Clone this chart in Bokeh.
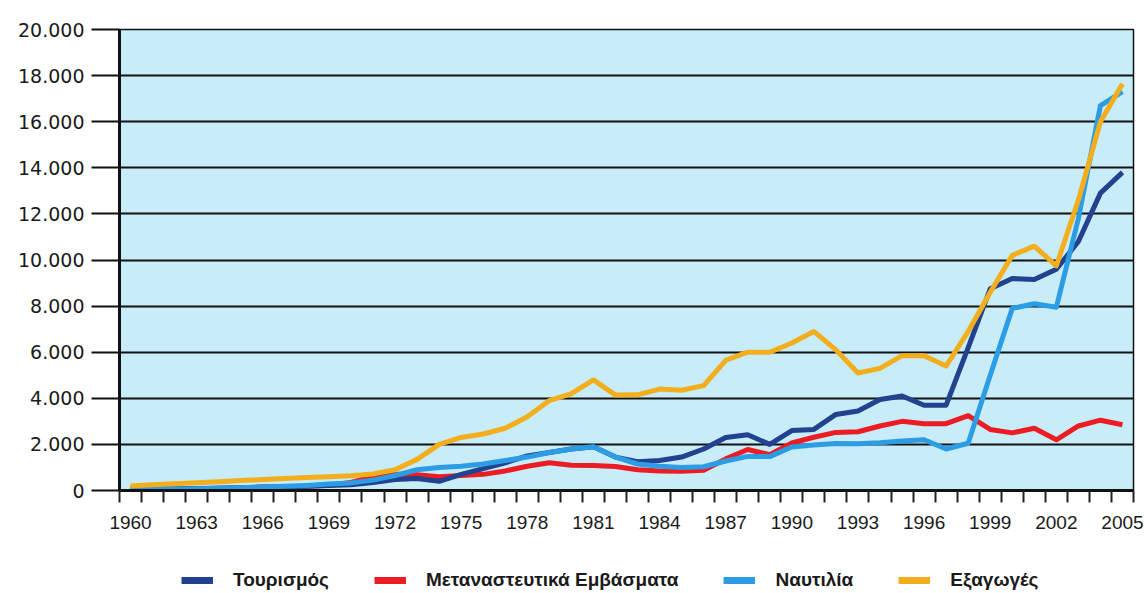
from bokeh.plotting import figure
from bokeh.models import FixedTicker, Legend, LegendItem, ColumnDataSource, Range1d
from bokeh.layouts import column
from bokeh.embed import file_html
from bokeh.resources import INLINE

years = list(range(1960, 2006))

tourism = [50, 60, 70, 90, 100, 110, 140, 150, 180, 220,
           250, 350, 480, 520, 400, 700, 950, 1200, 1500, 1650,
           1800, 1900, 1450, 1250, 1300, 1450, 1800, 2300, 2420, 2000,
           2600, 2650, 3300, 3450, 3950, 4100, 3700, 3700, 6200, 8750,
           9200, 9150, 9600, 10800, 12900, 13800]

remittances = [30, 40, 60, 80, 100, 120, 150, 160, 180, 230,
               350, 600, 700, 680, 600, 650, 700, 850, 1050, 1200,
               1100, 1080, 1040, 900, 850, 830, 880, 1370, 1780, 1550,
               2060, 2310, 2520, 2550, 2800, 3000, 2900, 2900, 3250, 2650,
               2500, 2700, 2200, 2800, 3050, 2850]

shipping = [40, 50, 60, 80, 100, 120, 150, 180, 220, 280,
            330, 450, 650, 900, 1000, 1050, 1150, 1300, 1450, 1650,
            1800, 1900, 1450, 1150, 1050, 1000, 1030, 1280, 1480, 1470,
            1890, 1970, 2040, 2030, 2070, 2150, 2200, 1800, 2050, 5000,
            7900, 8100, 7950, 11800, 16700, 17300]

exports = [200, 250, 290, 340, 380, 430, 480, 520, 560, 600,
           640, 720, 900, 1350, 2000, 2300, 2450, 2700, 3200, 3900,
           4200, 4800, 4140, 4150, 4400, 4350, 4550, 5650, 6000, 6000,
           6400, 6900, 6100, 5100, 5300, 5850, 5850, 5400, 6900, 8600,
           10200, 10600, 9750, 12600, 16000, 17650]

series_names = ["Τουρισμός", "Μεταναστευτικά Εμβάσματα", "Ναυτιλία", "Εξαγωγές"]
series_colors = ["#22418f", "#ec1c24", "#2c9de4", "#f2ae1d"]

y_ticks = [0, 2000, 4000, 6000, 8000, 10000, 12000, 14000, 16000, 18000, 20000]
y_tick_labels = ["0", "2.000", "4.000", "6.000", "8.000", "10.000", "12.000",
                 "14.000", "16.000", "18.000", "20.000"]
x_ticks = list(range(1960, 2006, 3))
x_tick_labels = [str(y) for y in x_ticks]
x_minor = [y - 0.5 for y in range(1960, 2007)]

src = ColumnDataSource(dict(year=years, tourism=tourism, remittances=remittances,
                            shipping=shipping, exports=exports))

p = figure(width=1147, height=545, output_backend="svg", toolbar_location=None,
           x_range=(1959.5, 2005.5), y_range=(0, 20000),
           min_border_left=119, min_border_right=14, min_border_top=29,
           min_border_bottom=55)
p.background_fill_color = "#c8ecf8"
p.border_fill_color = "white"
p.outline_line_color = "#111111"
p.outline_line_width = 1.5

p.xgrid.visible = False
p.ygrid.grid_line_color = "#111111"
p.ygrid.grid_line_width = 2

p.yaxis.ticker = FixedTicker(ticks=y_ticks)
p.yaxis.major_label_overrides = {t: l for t, l in zip(y_ticks, y_tick_labels)}
p.yaxis.axis_line_color = "#111111"
p.yaxis.axis_line_width = 3
p.yaxis.major_tick_line_color = "#111111"
p.yaxis.major_tick_line_width = 2
p.yaxis.major_tick_out = 28
p.yaxis.major_tick_in = 0
p.yaxis.minor_tick_line_color = None
p.yaxis.major_label_standoff = 7
p.yaxis.major_label_text_font = "DejaVu Sans"
p.yaxis.major_label_text_font_size = "19px"
p.yaxis.major_label_text_color = "#1a1a1a"

p.xaxis.ticker = FixedTicker(ticks=x_ticks, minor_ticks=x_minor)
p.xaxis.major_label_overrides = {t: l for t, l in zip(x_ticks, x_tick_labels)}
p.xaxis.axis_line_color = "#111111"
p.xaxis.axis_line_width = 3
p.xaxis.major_tick_line_color = None
p.xaxis.major_tick_out = 0
p.xaxis.major_tick_in = 0
p.xaxis.minor_tick_line_color = "#222222"
p.xaxis.minor_tick_line_width = 2
p.xaxis.minor_tick_out = 12
p.xaxis.minor_tick_in = 0
p.xaxis.major_label_standoff = 13
p.xaxis.major_label_text_font = "Liberation Sans"
p.xaxis.major_label_text_font_size = "19px"
p.xaxis.major_label_text_color = "#1a1a1a"

cols = ["tourism", "remittances", "shipping", "exports"]
draw_order = ["remittances", "tourism", "shipping", "exports"]
for c in draw_order:
    i = cols.index(c)
    p.line("year", c, source=src, line_color=series_colors[i],
           line_width=5, line_join="round")

# legend strip below the chart (its frame is aligned with the chart's frame)
lg = figure(width=1147, height=48, output_backend="svg", toolbar_location=None,
            x_range=Range1d(0, 1), y_range=Range1d(0, 1),
            x_axis_location=None, y_axis_location=None,
            min_border_left=119, min_border_right=14, min_border_top=0, min_border_bottom=0)
lg.grid.visible = False
lg.outline_line_color = None
lg.background_fill_color = "white"
lg_renderers = [lg.line([5, 6], [5, 6], line_color=c, line_width=7) for c in series_colors]
items = [LegendItem(label=n, renderers=[r]) for n, r in zip(series_names, lg_renderers)]
legend = Legend(items=items, orientation="horizontal", location=(62, 2),
                label_text_font="Liberation Sans", label_text_font_style="bold",
                label_text_font_size="19px", label_text_color="#1a1a1a",
                glyph_width=32, glyph_height=20, label_standoff=20, spacing=45,
                border_line_color=None, background_fill_alpha=0,
                margin=0, padding=4)
lg.add_layout(legend, "center")

open("out.html", "w").write(file_html(column(p, lg, spacing=0), INLINE))
